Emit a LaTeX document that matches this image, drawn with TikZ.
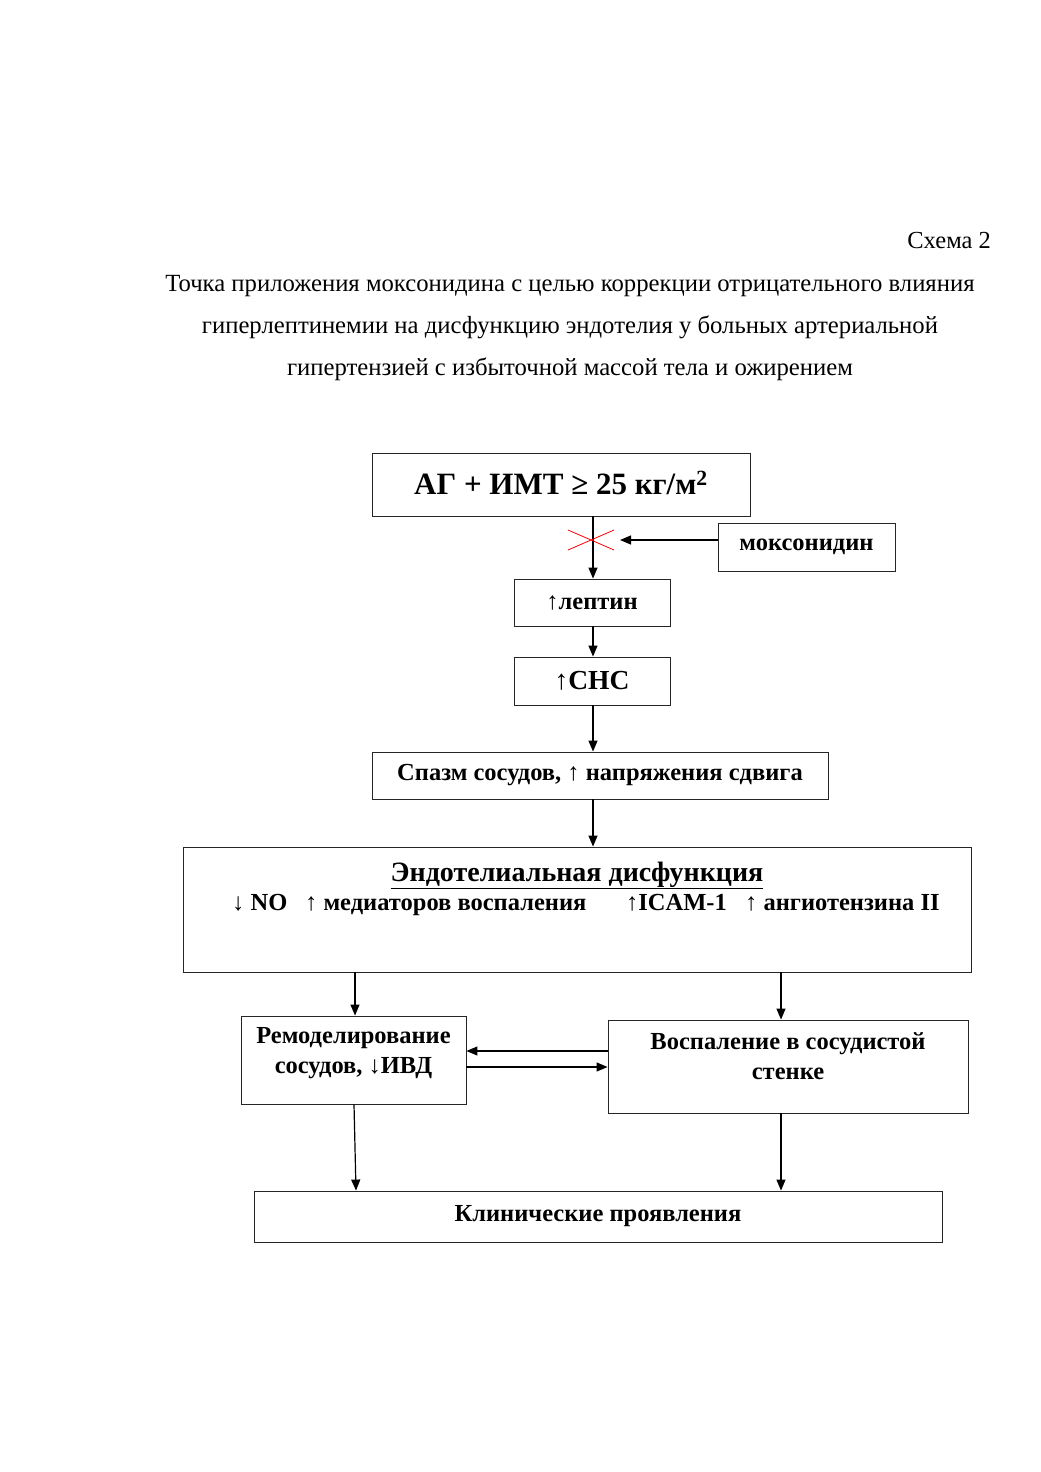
\documentclass[tikz,border=0pt]{standalone}
\usepackage{fontspec}
\setmainfont{Liberation Serif}
\usetikzlibrary{arrows.meta}
\newcommand{\fs}[1]{\fontsize{#1}{30}\selectfont}
\begin{document}
\begin{tikzpicture}[x=1pt,y=-1pt,
  box/.style={draw=black!85, line width=0.9pt, inner sep=0pt, align=center, font=\bfseries},
  conn/.style={line width=1.2pt, -{Triangle[length=11pt,width=9pt]}},
  txt/.style={inner sep=0pt, align=center}]
\useasboundingbox (0,0) rectangle (1041,1472);
% title
\node[txt, anchor=base east, font=\fs{24.5}] (scheme) at (991,248) {Схема 2};
\node[txt, anchor=base, font=\fs{24.7}] (t1) at (570,291) {Точка приложения моксонидина с целью коррекции отрицательного влияния};
\node[txt, anchor=base, font=\fs{24.7}] (t2) at (570,333) {гиперлептинемии на дисфункцию эндотелия у больных артериальной};
\node[txt, anchor=base, font=\fs{24.7}] (t3) at (570,375) {гипертензией с избыточной массой тела и ожирением};
% boxes
\node[box, minimum width=378, minimum height=63, font=\bfseries\fs{31}] (ag) at (561,484.5) {\raisebox{4pt}{АГ + ИМТ ≥ 25 кг/м\textsuperscript{2}}};
\node[box, minimum width=177, minimum height=48, font=\bfseries\fs{24.5}] (mox) at (806.5,547) {моксонидин};
\node[box, minimum width=156, minimum height=47, font=\bfseries\fs{24.5}] (lep) at (592,602.5) {↑лептин};
\node[box, minimum width=156, minimum height=48, font=\bfseries\fs{27.5}] (snc) at (592,681) {↑СНС};
\node[box, minimum width=456, minimum height=47, font=\bfseries\fs{24.5}] (spasm) at (600,775.5) {Спазм сосудов, ↑ напряжения сдвига};
\node[box, minimum width=788, minimum height=125] (endo) at (577,909.5) {};
\node[txt, anchor=base, font=\bfseries\fs{28}] (endoT) at (577,881) {\underline{Эндотелиальная дисфункция}};
\node[txt, anchor=base west, font=\bfseries\fs{24.5}] (endoL) at (232,910) {\makebox[73pt][l]{↓ NO}\makebox[321pt][l]{↑ медиаторов воспаления}\makebox[119pt][l]{↑ICAM-1}↑ ангиотензина II};
\node[box, minimum width=225, minimum height=88] (remod) at (353.5,1060) {};
\node[txt, font=\bfseries\fs{24.5}] (remodT) at (353.5,1053) {Ремоделирование\\сосудов, ↓ИВД};
\node[box, minimum width=360, minimum height=93] (infl) at (788,1066.5) {};
\node[txt, font=\bfseries\fs{24.5}] (inflT) at (788,1056.5) {Воспаление в сосудистой\\стенке};
\node[box, minimum width=688, minimum height=51, font=\bfseries\fs{24.5}] (clin) at (598,1216.5) {Клинические проявления};
% connectors
\coordinate (blockend) at (620,540);
\draw[conn] (ag.south -| 593,0) -- (lep.north -| 593,0);
\draw[red, line width=0.8pt] (568,530) -- (614,550) (568,550) -- (614,530);
\draw[conn] (mox.west |- blockend) -- (blockend);
\draw[conn] (lep.south -| 593,0) -- (snc.north -| 593,0);
\draw[conn] (snc.south -| 593,0) -- (spasm.north -| 593,0);
\draw[conn] (spasm.south -| 593,0) -- (endo.north -| 593,0);
\draw[conn] (endo.south -| 355,0) -- (remod.north -| 355,0);
\draw[conn] (endo.south -| 781,0) -- (infl.north -| 781,0);
\draw[conn] (infl.west |- 0,1051) -- (remod.east |- 0,1051);
\draw[conn] (remod.east |- 0,1067) -- (infl.west |- 0,1067);
\draw[conn] (remod.south -| 354,0) -- (clin.north -| 356,0);
\draw[conn] (infl.south -| 781,0) -- (clin.north -| 781,0);
\end{tikzpicture}
\end{document}
